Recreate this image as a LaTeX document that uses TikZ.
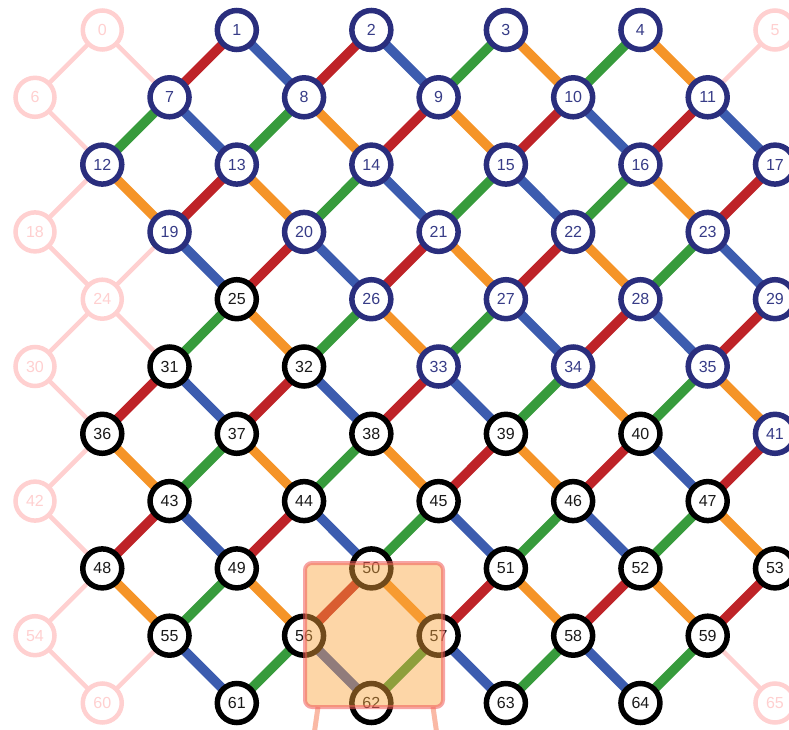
\documentclass[tikz,border=0pt]{standalone}
\usepackage{fontspec}
\setmainfont{Liberation Sans}
\definecolor{navy}{RGB}{42,46,125}
\definecolor{navytext}{RGB}{55,60,135}
\definecolor{ered}{RGB}{190,35,40}
\definecolor{eblue}{RGB}{60,92,175}
\definecolor{egreen}{RGB}{55,155,60}
\definecolor{eorange}{RGB}{245,148,40}
\definecolor{fpink}{RGB}{255,208,208}
\definecolor{ovfill}{RGB}{250,165,60}
\definecolor{ovline}{RGB}{240,90,90}
\definecolor{legc}{RGB}{250,185,165}
\pgfdeclarelayer{bg}
\pgfsetlayers{bg,main}
\tikzset{
  basenode/.style={circle, fill=white, inner sep=0pt, minimum size=39pt,
    font=\fontsize{16}{18}\selectfont},
  navynode/.style={basenode, draw=navy, line width=5.5pt, text=navytext},
  blacknode/.style={basenode, draw=black, line width=5.5pt, text=black!90},
  fadenode/.style={basenode, draw=fpink, line width=4.5pt, text=fpink},
  edge/.style={line width=9.5pt},
  fadeedge/.style={line width=4.5pt, fpink},
}
\begin{document}
\begin{tikzpicture}[x=1pt,y=-1pt]
\useasboundingbox (0,0) rectangle (789,730);
% nodes
\foreach \n/\sty in {0/fadenode,5/fadenode,6/fadenode,18/fadenode,24/fadenode,30/fadenode,42/fadenode,54/fadenode,60/fadenode,65/fadenode,
  1/navynode,2/navynode,3/navynode,4/navynode,7/navynode,8/navynode,9/navynode,10/navynode,11/navynode,
  12/navynode,13/navynode,14/navynode,15/navynode,16/navynode,17/navynode,
  19/navynode,20/navynode,21/navynode,22/navynode,23/navynode,
  26/navynode,27/navynode,28/navynode,29/navynode,33/navynode,34/navynode,35/navynode,41/navynode,
  25/blacknode,31/blacknode,32/blacknode,36/blacknode,37/blacknode,38/blacknode,39/blacknode,40/blacknode,
  43/blacknode,44/blacknode,45/blacknode,46/blacknode,47/blacknode,
  48/blacknode,49/blacknode,50/blacknode,51/blacknode,52/blacknode,53/blacknode,
  55/blacknode,56/blacknode,57/blacknode,58/blacknode,59/blacknode,
  61/blacknode,62/blacknode,63/blacknode,64/blacknode}{
  \pgfmathtruncatemacro\rr{int(\n/6)}
  \pgfmathtruncatemacro\jj{\n-6*\rr}
  \pgfmathtruncatemacro\kk{2*\jj+1-mod(\rr,2)}
  \node[\sty] (n\n) at ({35+67.27*\kk},{30+67.3*\rr}) {\n};
}
% edges
\begin{pgfonlayer}{bg}
\foreach \a/\b in {0/6,0/7,5/11,6/12,12/18,18/24,19/24,24/30,24/31,30/36,36/42,42/48,48/54,54/60,55/60,59/65}
  \draw[fadeedge] (n\a.center) -- (n\b.center);
\foreach \a/\b/\c in {1/7/ered,1/8/eblue,2/8/ered,2/9/eblue,3/9/egreen,3/10/eorange,4/10/egreen,4/11/eorange,
  7/12/egreen,7/13/eblue,8/13/egreen,8/14/eorange,9/14/ered,9/15/eorange,10/15/ered,10/16/eblue,11/16/ered,11/17/eblue,
  12/19/eorange,13/19/ered,13/20/eorange,14/20/egreen,14/21/eblue,15/21/egreen,15/22/eblue,16/22/egreen,16/23/eorange,17/23/ered,
  19/25/eblue,20/25/ered,20/26/eblue,21/26/ered,21/27/eorange,22/27/ered,22/28/eorange,23/28/egreen,23/29/eblue,
  25/31/egreen,25/32/eorange,26/32/egreen,26/33/eorange,27/33/egreen,27/34/eblue,28/34/ered,28/35/eblue,29/35/ered,
  31/36/ered,31/37/eblue,32/37/ered,32/38/eblue,33/38/ered,33/39/eblue,34/39/egreen,34/40/eorange,35/40/egreen,35/41/eorange,
  36/43/eorange,37/43/egreen,37/44/eorange,38/44/egreen,38/45/eorange,39/45/ered,39/46/eorange,40/46/ered,40/47/eblue,41/47/ered,
  43/48/ered,43/49/eblue,44/49/ered,44/50/eblue,45/50/egreen,45/51/eblue,46/51/egreen,46/52/eblue,47/52/egreen,47/53/eorange,
  48/55/eorange,49/55/egreen,49/56/eorange,50/56/ered,50/57/eorange,51/57/ered,51/58/eorange,52/58/ered,52/59/eorange,53/59/ered,
  55/61/eblue,56/61/egreen,56/62/eblue,57/62/egreen,57/63/eblue,58/63/egreen,58/64/eblue,59/64/egreen}
  \draw[edge,\c] (n\a.center) -- (n\b.center);
\end{pgfonlayer}
% highlight board
\coordinate (bl) at (305,563);
\coordinate (tr) at (443,707);
\coordinate (l1) at (318,707);
\coordinate (l2) at (314,735);
\coordinate (r1) at (433,707);
\coordinate (r2) at (437,735);
\draw[legc, line width=5pt] (l1) -- (l2);
\draw[legc, line width=5pt] (r1) -- (r2);
\fill[ovfill, fill opacity=0.45, rounded corners=7pt] (bl) rectangle (tr);
\draw[ovline, draw opacity=0.55, line width=4pt, rounded corners=7pt] (bl) rectangle (tr);
\end{tikzpicture}
\end{document}
